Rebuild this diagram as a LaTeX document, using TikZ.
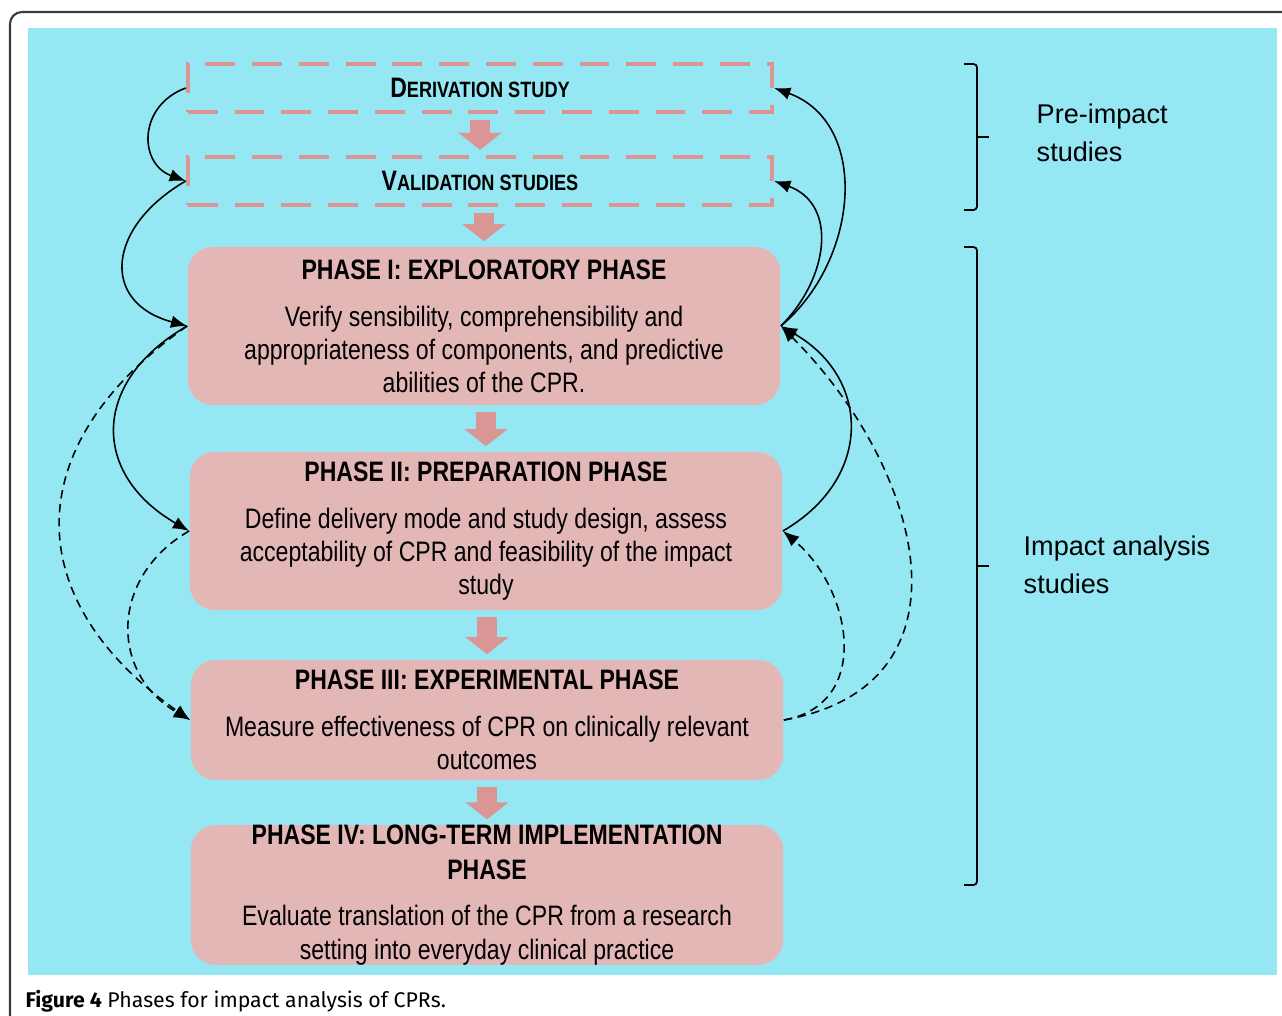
\documentclass[tikz,border=0pt]{standalone}
\usepackage{fontspec}
\setmainfont{Liberation Sans}
\newfontfamily\narrowfont{Liberation Sans}[FakeStretch=0.82]
\newfontfamily\capfont{Fira Sans}
\usepackage{tikz}
\usetikzlibrary{arrows.meta,calc}
\definecolor{skybg}{RGB}{149,232,243}
\definecolor{phasefill}{RGB}{228,183,183}
\definecolor{rosedash}{RGB}{217,150,148}
\definecolor{framegray}{RGB}{60,60,60}
\tikzstyle{studybox}=[draw=rosedash, line width=1.15pt, dash pattern=on 8.5pt off 4.8pt, minimum width=5.84cm, minimum height=0.48cm, inner sep=0pt, font=\narrowfont\bfseries\fontsize{8}{9.6}\selectfont]
\tikzstyle{phasebox}=[fill=phasefill, rounded corners=0.25cm, minimum width=5.92cm, align=center, inner sep=0pt, font=\narrowfont\fontsize{8}{9.4}\selectfont]
\tikzstyle{flow}=[rosedash, line width=0.2cm, -{Triangle[width=0.42cm,length=0.17cm]}, shorten <=0.06cm, shorten >=0.05cm]
\tikzstyle{cycleline}=[line width=0.45pt, -{Latex[length=4.6pt,width=3.6pt]}]
\tikzstyle{cycledash}=[cycleline, dash pattern=on 2.4pt off 1.6pt]
\tikzstyle{bracket}=[line width=0.5pt, rounded corners=1pt]
\tikzstyle{grouplabel}=[anchor=west, align=left, inner sep=0pt, font=\fontsize{7.7}{10.8}\selectfont]
\newcommand{\smallcap}[2]{#1{\fontsize{6.3}{7}\selectfont #2}}

\begin{document}
\begin{tikzpicture}[x=0.01cm,y=0.01cm]
\useasboundingbox (0,0) rectangle (1282,-1016);
\fill[white] (0,0) rectangle (1282,-1016);
\draw[framegray, line width=0.6pt, rounded corners=0.12cm] (10,-1030) -- (10,-12) -- (1300,-12);
\fill[skybg] (28,-28) rectangle (1277,-975);

% pre-impact studies
\node[studybox] (deriv) at (480,-88) {\smallcap{D}{ERIVATION STUDY}};
\node[studybox] (valid) at (480,-181) {\smallcap{V}{ALIDATION STUDIES}};

% impact analysis phases
\node[phasebox, minimum height=1.58cm] (p1) at (484,-326)
  {\textbf{PHASE I: EXPLORATORY PHASE}\\[4pt]Verify sensibility, comprehensibility and\\appropriateness of components, and predictive\\abilities of the CPR.};
\node[phasebox, minimum height=1.58cm] (p2) at (486,-531)
  {\textbf{PHASE II: PREPARATION PHASE}\\[4pt]Define delivery mode and study design, assess\\acceptability of CPR and feasibility of the impact\\study};
\node[phasebox, minimum height=1.2cm] (p3) at (487,-720)
  {\textbf{PHASE III: EXPERIMENTAL PHASE}\\[4pt]Measure effectiveness of CPR on clinically relevant\\outcomes};
\node[phasebox, minimum height=1.39cm] (p4) at (487,-895)
  {\textbf{PHASE IV: LONG-TERM IMPLEMENTATION}\\[0.6pt]\textbf{PHASE}\\[3.7pt]Evaluate translation of the CPR from a research\\setting into everyday clinical practice};

\foreach \a/\b in {deriv/valid,valid/p1,p1/p2,p2/p3,p3/p4} {
	\draw[flow] (\b.north |- \a.south) -- (\b.north);
}

% forward links
\draw[cycleline] (deriv.west) to[out=200,in=160,looseness=1.4] (valid.west);
\draw[cycleline] (valid.west) to[out=210,in=165,looseness=1.6] (p1.west);
\draw[cycleline] (p1.west) to[out=210,in=150,looseness=1.4] (p2.west);
\draw[cycledash] (p1.west) to[out=215,in=145,looseness=1.35] (p3.west);
\draw[cycledash] (p2.west) to[out=210,in=150,looseness=1.25] (p3.west);

% feedback links
\draw[cycleline] (p1.east) to[out=40,in=-20,looseness=1.1] (deriv.east);
\draw[cycleline] (p1.east) to[out=45,in=-20,looseness=1.2] (valid.east);
\draw[cycleline] (p2.east) to[out=30,in=-30,looseness=1.3] (p1.east);
\draw[cycledash] (p3.east) to[out=10,in=-40,looseness=1.22] (p2.east);
\draw[cycledash] (p3.east) to[out=10,in=-45,looseness=1.3] (p1.east);

% brackets
\foreach \top/\bot in {64/210,247/885} {
	\draw[bracket] (964,-\top) -- (977,-\top) -- (977,-\bot) -- (964,-\bot);
	\draw[line width=0.5pt] (977,{-(\top+\bot)/2}) -- (989,{-(\top+\bot)/2});
}
\node[grouplabel] (pre) at (1036,-133) {Pre-impact\\studies};
\node[grouplabel] (impact) at (1023,-565) {Impact analysis\\studies};

\node[anchor=west, inner sep=0pt, font=\capfont\fontsize{6.05}{7}\selectfont] (caption) at (25,-1001)
  {\textbf{Figure 4} Phases for impact analysis of CPRs.};
\end{tikzpicture}
\end{document}
